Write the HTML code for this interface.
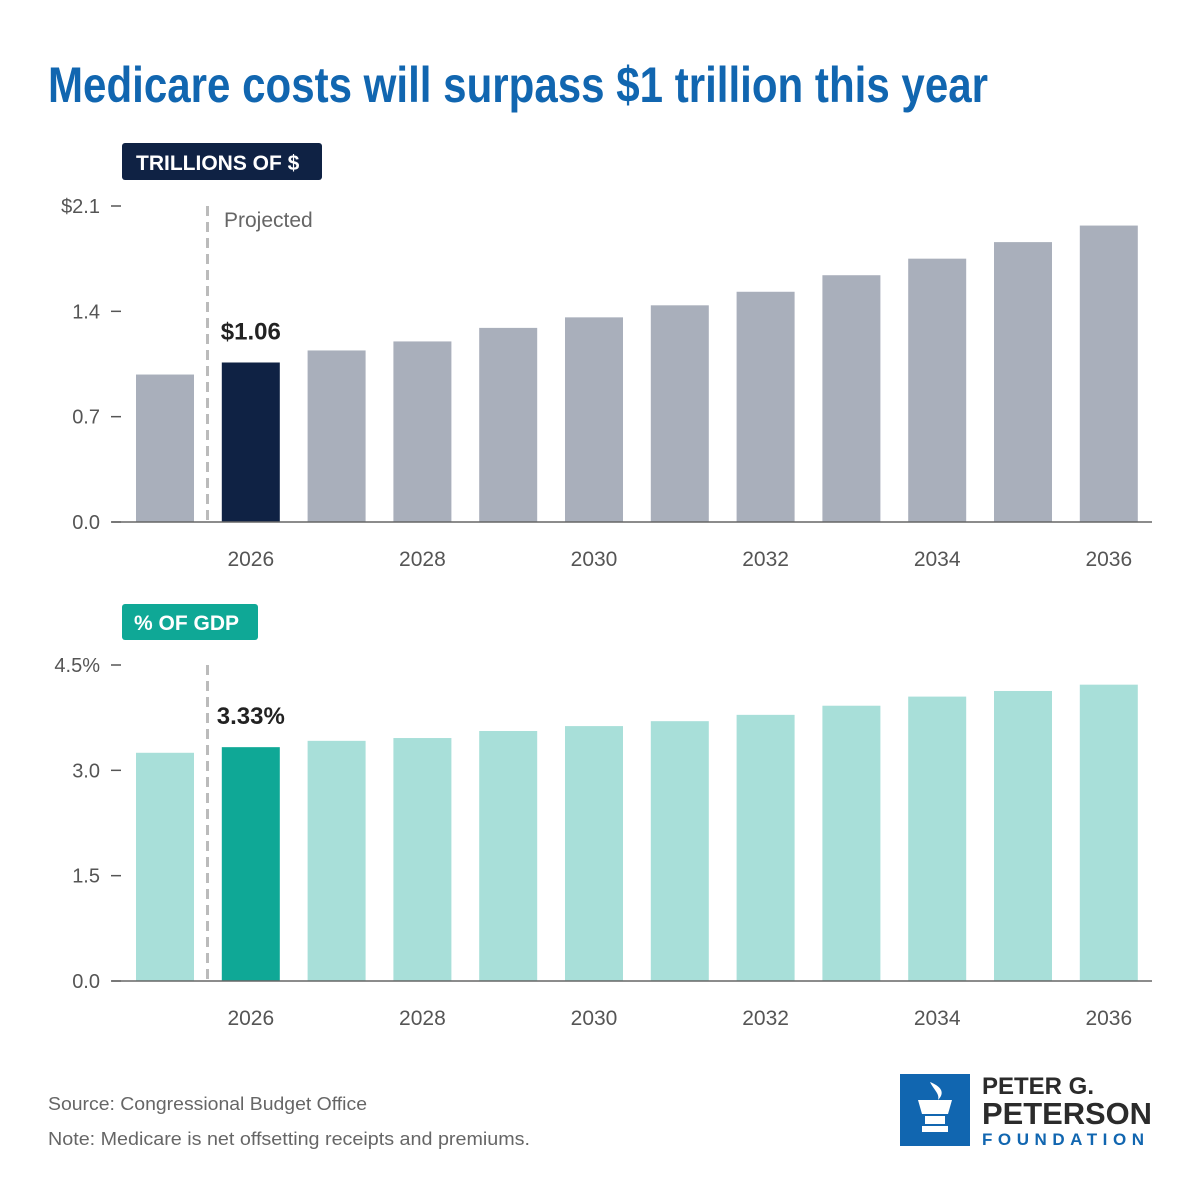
<!DOCTYPE html>
<html><head><meta charset="utf-8"><style>
body{margin:0;background:#fff;font-family:"Liberation Sans",sans-serif;}
#wrap{position:relative;width:1200px;height:1200px;overflow:hidden;}
</style></head><body><div id="wrap">
<svg id="svg" width="1200" height="1200">
<text x="48" y="102" font-size="50" font-weight="bold" fill="#1166b0" textLength="940" lengthAdjust="spacingAndGlyphs">Medicare costs will surpass $1 trillion this year</text>
<rect x="122" y="143" width="200" height="37" rx="3" fill="#0f2244"/>
<text x="136" y="170" font-size="21" font-weight="bold" fill="#fff">TRILLIONS OF $</text>
<rect x="122" y="604" width="136" height="36" rx="3" fill="#0fa896"/>
<text x="134" y="630" font-size="21" font-weight="bold" fill="#fff">% OF GDP</text>
<g id="top"></g><g id="bot"></g>
<text x="48" y="1110" font-size="18" fill="#666" textLength="319" lengthAdjust="spacingAndGlyphs">Source: Congressional Budget Office</text>
<text x="48" y="1145" font-size="18" fill="#666" textLength="482" lengthAdjust="spacingAndGlyphs">Note: Medicare is net offsetting receipts and premiums.</text>
<g>
<rect x="900" y="1074" width="70" height="72" fill="#1166b0"/>
<path d="M918 1100h34l-4 14h-26z M925 1116h20v8h-20z M922 1126h26v6h-26z M930 1082c10 4 16 10 8 18c2-6-4-10-8-18z" fill="#fff"/>
<text x="982" y="1094" font-size="24" font-weight="bold" fill="#2b2b2b">PETER G.</text>
<text x="982" y="1124" font-size="31" font-weight="bold" fill="#2b2b2b" textLength="170" lengthAdjust="spacingAndGlyphs">PETERSON</text>
<text x="982" y="1145" font-size="17" font-weight="bold" fill="#1166b0" textLength="162" lengthAdjust="spacing">FOUNDATION</text>
</g>
</svg></div>
<script>
const years=[2025,2026,2027,2028,2029,2030,2031,2032,2033,2034,2035,2036];
const costValues=[0.98,1.06,1.14,1.20,1.29,1.36,1.44,1.53,1.64,1.75,1.86,1.97];
const gdpValues=[3.25,3.33,3.42,3.46,3.56,3.63,3.70,3.79,3.92,4.05,4.13,4.22];
const costTicks=[0,0.7,1.4,2.1];
const costTickLabels=["0.0","0.7","1.4","$2.1"];
const gdpTicks=[0,1.5,3.0,4.5];
const gdpTickLabels=["0.0","1.5","3.0","4.5%"];
const xTickYears=[2026,2028,2030,2032,2034,2036];
const NS="http://www.w3.org/2000/svg";
function mk(p,tag,a){const e=document.createElementNS(NS,tag);for(const k in a)e.setAttribute(k,a[k]);p.appendChild(e);return e;}
function x(yr){return 165+(yr-2025)*85.8;}
function panel(g,vals,ticks,labels,max,y0,colLight,colDark,hlLabel,name){
 const y=v=>y0-v/max*316;
 ticks.forEach((t,i)=>{
  const tx=mk(g,'text',{x:100,y:y(t)+7,'font-size':20,fill:'#555','text-anchor':'end'});tx.textContent=labels[i];
  
  
  const l=mk(g,'line',{x1:111,x2:121,y1:y(t),y2:y(t),stroke:'#555','stroke-width':1.5});
  
  
 });
 years.forEach((yr,i)=>{
  const r=mk(g,'rect',{x:x(yr)-29,y:y(vals[i]),width:58,height:y0-y(vals[i]),fill:yr===2026?colDark:colLight});
  
  
 });
 const ax=mk(g,'line',{x1:112,x2:1152,y1:y0,y2:y0,stroke:'#666','stroke-width':1.5});
 
 
 xTickYears.forEach(yr=>{
  const t=mk(g,'text',{x:x(yr),y:y0+44,'font-size':21,fill:'#555','text-anchor':'middle'});t.textContent=yr;
  
  
 });
 const d=mk(g,'line',{x1:207.5,x2:207.5,y1:y0-316,y2:y0,stroke:'#bbb','stroke-width':3,'stroke-dasharray':'10,6'});
 
 
 const i26=years.indexOf(2026);
 const v=mk(g,'text',{x:x(2026),y:y(vals[i26])-23,'font-size':24,'font-weight':'bold',fill:'#222','text-anchor':'middle'});v.textContent=hlLabel;
 
 
}
panel(document.getElementById('top'),costValues,costTicks,costTickLabels,2.1,522,'#a9afbb','#0f2244','$'+costValues[1].toFixed(2),'cost');
panel(document.getElementById('bot'),gdpValues,gdpTicks,gdpTickLabels,4.5,981,'#a8dfd9','#0fa896',gdpValues[1].toFixed(2)+'%','gdp');
const p=mk(document.getElementById('top'),'text',{x:224,y:227,'font-size':21,fill:'#666'});p.textContent='Projected';


</script></body></html>
